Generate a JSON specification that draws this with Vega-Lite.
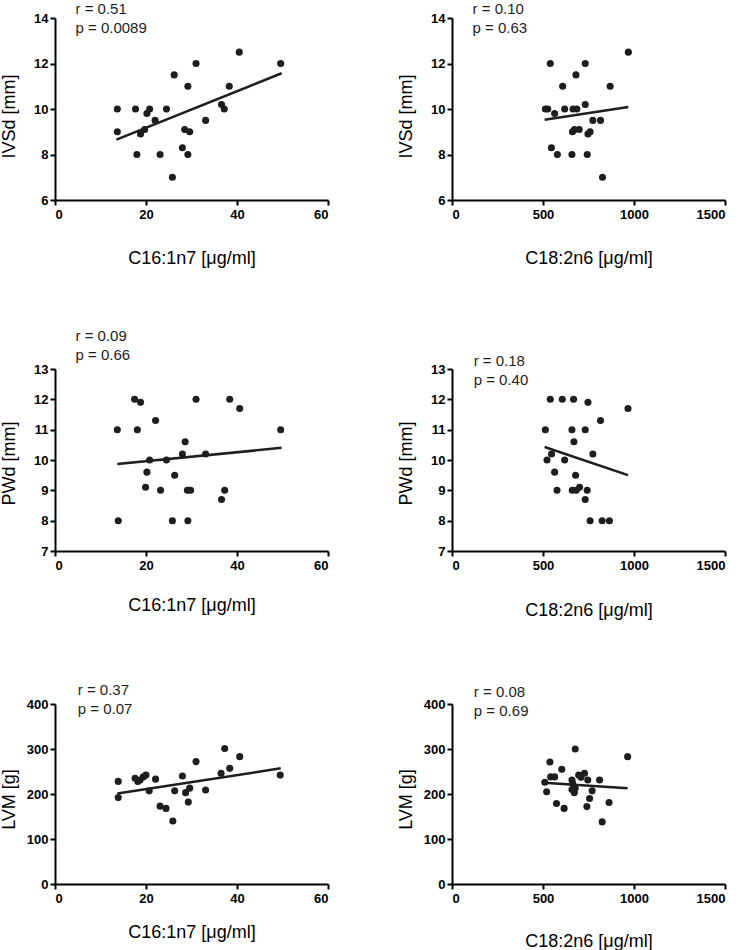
{
  "$schema": "https://vega.github.io/schema/vega-lite/v6.json",
  "background": "white",
  "padding": {"left": 0, "top": 2, "right": 5, "bottom": 0},
  "spacing": 62,
  "config": {
    "view": {"stroke": null},
    "font": "Liberation Sans",
    "axis": {
      "domainColor": "black", "domainWidth": 2, "tickColor": "black", "tickWidth": 2, "tickSize": 5,
      "grid": false, "labelFont": "Liberation Sans", "labelFontWeight": "bold", "labelFontSize": 13, "labelColor": "black",
      "titleFont": "Liberation Sans", "titleFontWeight": "normal", "titleFontSize": 18, "titleColor": "black", "format": "d"
    },
    "axisY": {"minExtent": 28, "maxExtent": 28, "titlePadding": 9, "labelPadding": 2},
    "axisX": {"minExtent": 22, "maxExtent": 22, "titlePadding": 27, "labelPadding": 3},
    "circle": {"size": 50, "opacity": 1, "color": "#1e1e1e"},
    "line": {"color": "#1e1e1e", "strokeWidth": 2.5},
    "text": {"font": "Liberation Sans", "fontSize": 15, "align": "left", "baseline": "alphabetic", "color": "#1e1e1e"}
  },
  "datasets": {
    "p1": [
      {"x": 13.7, "y": 10.0}, {"x": 17.7, "y": 10.0}, {"x": 20.8, "y": 10.0}, {"x": 20.2, "y": 9.8}, {"x": 24.5, "y": 10.0},
      {"x": 29.2, "y": 11.0}, {"x": 26.2, "y": 11.5}, {"x": 31.0, "y": 12.0}, {"x": 40.5, "y": 12.5}, {"x": 49.6, "y": 12.0},
      {"x": 38.3, "y": 11.0}, {"x": 36.6, "y": 10.2}, {"x": 37.2, "y": 10.0}, {"x": 22.0, "y": 9.5}, {"x": 33.1, "y": 9.5},
      {"x": 13.7, "y": 9.0}, {"x": 19.7, "y": 9.1}, {"x": 18.8, "y": 8.9}, {"x": 28.5, "y": 9.1}, {"x": 29.6, "y": 9.0},
      {"x": 18.0, "y": 8.0}, {"x": 23.1, "y": 8.0}, {"x": 28.0, "y": 8.3}, {"x": 29.2, "y": 8.0}, {"x": 25.8, "y": 7.0}
    ],
    "l1": [{"x": 13.5, "y": 8.65}, {"x": 49.8, "y": 11.57}],
    "p2": [
      {"x": 540, "y": 12.0}, {"x": 732, "y": 12.0}, {"x": 969, "y": 12.5}, {"x": 681, "y": 11.5}, {"x": 608, "y": 11.0},
      {"x": 869, "y": 11.0}, {"x": 513, "y": 10.0}, {"x": 526, "y": 10.0}, {"x": 564, "y": 9.8}, {"x": 619, "y": 10.0},
      {"x": 665, "y": 10.0}, {"x": 686, "y": 10.0}, {"x": 732, "y": 10.2}, {"x": 774, "y": 9.5}, {"x": 816, "y": 9.5},
      {"x": 662, "y": 9.0}, {"x": 673, "y": 9.1}, {"x": 699, "y": 9.1}, {"x": 747, "y": 8.9}, {"x": 759, "y": 9.0},
      {"x": 546, "y": 8.3}, {"x": 579, "y": 8.0}, {"x": 659, "y": 8.0}, {"x": 743, "y": 8.0}, {"x": 827, "y": 7.0}
    ],
    "l2": [{"x": 509, "y": 9.53}, {"x": 969, "y": 10.09}],
    "p3": [
      {"x": 17.5, "y": 12.0}, {"x": 18.8, "y": 11.9}, {"x": 31.0, "y": 12.0}, {"x": 38.4, "y": 12.0}, {"x": 40.6, "y": 11.7},
      {"x": 22.1, "y": 11.3}, {"x": 13.7, "y": 11.0}, {"x": 18.1, "y": 11.0}, {"x": 49.6, "y": 11.0}, {"x": 28.6, "y": 10.6},
      {"x": 20.8, "y": 10.0}, {"x": 24.5, "y": 10.0}, {"x": 28.0, "y": 10.2}, {"x": 33.1, "y": 10.2}, {"x": 20.2, "y": 9.6},
      {"x": 26.3, "y": 9.5}, {"x": 19.9, "y": 9.1}, {"x": 23.2, "y": 9.0}, {"x": 29.1, "y": 9.0}, {"x": 29.8, "y": 9.0},
      {"x": 37.3, "y": 9.0}, {"x": 36.6, "y": 8.7}, {"x": 13.9, "y": 8.0}, {"x": 25.8, "y": 8.0}, {"x": 29.2, "y": 8.0}
    ],
    "l3": [{"x": 13.7, "y": 9.87}, {"x": 49.8, "y": 10.4}],
    "p4": [
      {"x": 540, "y": 12.0}, {"x": 606, "y": 12.0}, {"x": 668, "y": 12.0}, {"x": 747, "y": 11.9}, {"x": 967, "y": 11.7},
      {"x": 816, "y": 11.3}, {"x": 513, "y": 11.0}, {"x": 659, "y": 11.0}, {"x": 732, "y": 11.0}, {"x": 670, "y": 10.6},
      {"x": 547, "y": 10.2}, {"x": 774, "y": 10.2}, {"x": 522, "y": 10.0}, {"x": 619, "y": 10.0}, {"x": 564, "y": 9.6},
      {"x": 679, "y": 9.5}, {"x": 577, "y": 9.0}, {"x": 661, "y": 9.0}, {"x": 683, "y": 9.0}, {"x": 701, "y": 9.1},
      {"x": 743, "y": 9.0}, {"x": 732, "y": 8.7}, {"x": 759, "y": 8.0}, {"x": 825, "y": 8.0}, {"x": 865, "y": 8.0}
    ],
    "l4": [{"x": 509, "y": 10.43}, {"x": 967, "y": 9.5}],
    "p5": [
      {"x": 13.9, "y": 228}, {"x": 13.9, "y": 192}, {"x": 17.6, "y": 235}, {"x": 18.2, "y": 228}, {"x": 18.7, "y": 231},
      {"x": 20.0, "y": 242}, {"x": 19.4, "y": 238}, {"x": 22.1, "y": 233}, {"x": 20.7, "y": 207}, {"x": 23.1, "y": 173},
      {"x": 24.4, "y": 168}, {"x": 25.9, "y": 140}, {"x": 26.3, "y": 207}, {"x": 28.0, "y": 240}, {"x": 28.7, "y": 203},
      {"x": 29.6, "y": 213}, {"x": 29.3, "y": 182}, {"x": 31.0, "y": 272}, {"x": 33.1, "y": 209}, {"x": 36.5, "y": 246},
      {"x": 37.3, "y": 301}, {"x": 38.4, "y": 257}, {"x": 40.6, "y": 283}, {"x": 49.5, "y": 242}
    ],
    "l5": [{"x": 13.7, "y": 201}, {"x": 49.6, "y": 257}],
    "p6": [
      {"x": 677, "y": 300}, {"x": 965, "y": 283}, {"x": 538, "y": 271}, {"x": 603, "y": 255}, {"x": 542, "y": 238},
      {"x": 564, "y": 238}, {"x": 510, "y": 226}, {"x": 520, "y": 205}, {"x": 659, "y": 231}, {"x": 696, "y": 242},
      {"x": 728, "y": 246}, {"x": 746, "y": 231}, {"x": 811, "y": 231}, {"x": 659, "y": 210}, {"x": 672, "y": 203},
      {"x": 677, "y": 213}, {"x": 770, "y": 207}, {"x": 756, "y": 190}, {"x": 574, "y": 179}, {"x": 616, "y": 168},
      {"x": 741, "y": 172}, {"x": 863, "y": 181}, {"x": 825, "y": 138}, {"x": 709, "y": 237}, {"x": 663, "y": 224}
    ],
    "l6": [{"x": 505, "y": 225}, {"x": 965, "y": 213}],
    "t1": [{"x": 4.5, "y": 14.16, "t": "r = 0.51"}, {"x": 4.5, "y": 13.33, "t": "p = 0.0089"}],
    "t2": [{"x": 113, "y": 14.16, "t": "r = 0.10"}, {"x": 113, "y": 13.33, "t": "p = 0.63"}],
    "t3": [{"x": 4.5, "y": 13.91, "t": "r = 0.09"}, {"x": 4.5, "y": 13.31, "t": "p = 0.66"}],
    "t4": [{"x": 119, "y": 13.11, "t": "r = 0.18"}, {"x": 119, "y": 12.48, "t": "p = 0.40"}],
    "t5": [{"x": 5, "y": 420, "t": "r = 0.37"}, {"x": 5, "y": 377, "t": "p = 0.07"}],
    "t6": [{"x": 120, "y": 416, "t": "r = 0.08"}, {"x": 120, "y": 373, "t": "p = 0.69"}]
  },
  "vconcat": [
    {
      "bounds": "flush",
      "spacing": 124,
      "hconcat": [
        {
          "width": 273, "height": 182,
          "encoding": {
            "x": {"field": "x", "type": "quantitative", "scale": {"domain": [0, 60], "nice": false, "zero": false}, "axis": {"values": [0, 20, 40, 60], "title": "C16:1n7 [μg/ml]"}},
            "y": {"field": "y", "type": "quantitative", "scale": {"domain": [6, 14], "nice": false, "zero": false}, "axis": {"values": [6, 8, 10, 12, 14], "title": "IVSd [mm]", "titleY": 98}}
          },
          "layer": [
            {"data": {"name": "p1"}, "mark": "circle"},
            {"data": {"name": "l1"}, "mark": "line"},
            {"data": {"name": "t1"}, "mark": {"type": "text"}, "encoding": {"text": {"field": "t"}}}
          ]
        },
        {
          "width": 273, "height": 182,
          "encoding": {
            "x": {"field": "x", "type": "quantitative", "scale": {"domain": [0, 1500], "nice": false, "zero": false}, "axis": {"values": [0, 500, 1000, 1500], "title": "C18:2n6 [μg/ml]"}},
            "y": {"field": "y", "type": "quantitative", "scale": {"domain": [6, 14], "nice": false, "zero": false}, "axis": {"values": [6, 8, 10, 12, 14], "title": "IVSd [mm]", "titleY": 98}}
          },
          "layer": [
            {"data": {"name": "p2"}, "mark": "circle"},
            {"data": {"name": "l2"}, "mark": "line"},
            {"data": {"name": "t2"}, "mark": {"type": "text"}, "encoding": {"text": {"field": "t"}}}
          ]
        }
      ]
    },
    {
      "bounds": "flush",
      "spacing": 124,
      "hconcat": [
        {
          "width": 273, "height": 182,
          "encoding": {
            "x": {"field": "x", "type": "quantitative", "scale": {"domain": [0, 60], "nice": false, "zero": false}, "axis": {"values": [0, 20, 40, 60], "title": "C16:1n7 [μg/ml]", "titlePadding": 23.5}},
            "y": {"field": "y", "type": "quantitative", "scale": {"domain": [7, 13], "nice": false, "zero": false}, "axis": {"values": [7, 8, 9, 10, 11, 12, 13], "title": "PWd [mm]", "titleY": 94}}
          },
          "layer": [
            {"data": {"name": "p3"}, "mark": "circle"},
            {"data": {"name": "l3"}, "mark": "line"},
            {"data": {"name": "t3"}, "mark": {"type": "text"}, "encoding": {"text": {"field": "t"}}}
          ]
        },
        {
          "width": 273, "height": 182,
          "encoding": {
            "x": {"field": "x", "type": "quantitative", "scale": {"domain": [0, 1500], "nice": false, "zero": false}, "axis": {"values": [0, 500, 1000, 1500], "title": "C18:2n6 [μg/ml]", "titlePadding": 28.5}},
            "y": {"field": "y", "type": "quantitative", "scale": {"domain": [7, 13], "nice": false, "zero": false}, "axis": {"values": [7, 8, 9, 10, 11, 12, 13], "title": "PWd [mm]", "titleY": 94}}
          },
          "layer": [
            {"data": {"name": "p4"}, "mark": "circle"},
            {"data": {"name": "l4"}, "mark": "line"},
            {"data": {"name": "t4"}, "mark": {"type": "text"}, "encoding": {"text": {"field": "t"}}}
          ]
        }
      ]
    },
    {
      "bounds": "flush",
      "spacing": 124,
      "hconcat": [
        {
          "width": 273, "height": 180,
          "encoding": {
            "x": {"field": "x", "type": "quantitative", "scale": {"domain": [0, 60], "nice": false, "zero": false}, "axis": {"values": [0, 20, 40, 60], "title": "C16:1n7 [μg/ml]", "titlePadding": 17.5}},
            "y": {"field": "y", "type": "quantitative", "scale": {"domain": [0, 400], "nice": false, "zero": false}, "axis": {"values": [0, 100, 200, 300, 400], "title": "LVM [g]", "titleY": 95}}
          },
          "layer": [
            {"data": {"name": "p5"}, "mark": "circle"},
            {"data": {"name": "l5"}, "mark": "line"},
            {"data": {"name": "t5"}, "mark": {"type": "text"}, "encoding": {"text": {"field": "t"}}}
          ]
        },
        {
          "width": 273, "height": 180,
          "encoding": {
            "x": {"field": "x", "type": "quantitative", "scale": {"domain": [0, 1500], "nice": false, "zero": false}, "axis": {"values": [0, 500, 1000, 1500], "title": "C18:2n6 [μg/ml]", "titlePadding": 26.5}},
            "y": {"field": "y", "type": "quantitative", "scale": {"domain": [0, 400], "nice": false, "zero": false}, "axis": {"values": [0, 100, 200, 300, 400], "title": "LVM [g]", "titleY": 95}}
          },
          "layer": [
            {"data": {"name": "p6"}, "mark": "circle"},
            {"data": {"name": "l6"}, "mark": "line"},
            {"data": {"name": "t6"}, "mark": {"type": "text"}, "encoding": {"text": {"field": "t"}}}
          ]
        }
      ]
    }
  ]
}
